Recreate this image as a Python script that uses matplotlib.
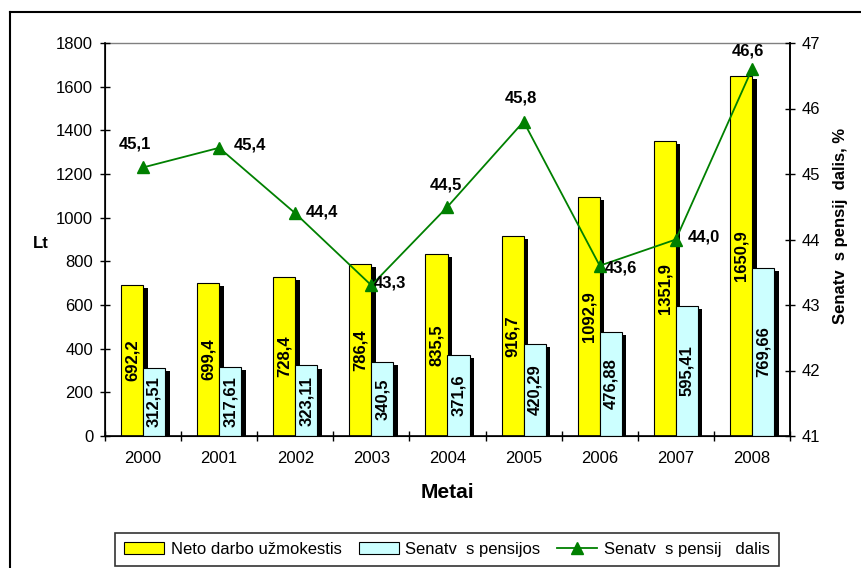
import matplotlib
matplotlib.use("Agg")
import matplotlib.pyplot as plt
import matplotlib.patheffects as pe
from matplotlib.lines import Line2D
from matplotlib.patches import Patch
import numpy as np

plt.rcParams['font.family'] = ['Liberation Sans', 'DejaVu Sans']

years = ['2000', '2001', '2002', '2003', '2004', '2005', '2006', '2007', '2008']
neto = [692.2, 699.4, 728.4, 786.4, 835.5, 916.7, 1092.9, 1351.9, 1650.9]
pensijos = [312.51, 317.61, 323.11, 340.5, 371.6, 420.29, 476.88, 595.41, 769.66]
dalis = [45.1, 45.4, 44.4, 43.3, 44.5, 45.8, 43.6, 44.0, 46.6]

label_neto = 'Neto darbo užmokestis'
label_pens = 'Senatv  s pensijos'
label_dalis = 'Senatv  s pensij   dalis'

# label offsets for line value labels (points)
dalis_offsets = [(-6, 17), (22, 2), (19, 1), (13, 2), (-1, 16), (-2, 17), (15, -2), (20, 2), (-3, 13)]

fig = plt.figure(figsize=(8.61, 5.68), dpi=100)
ax = fig.add_axes([105/861, 1-436/568, 685/861, 393/568])

FS = 12
c_neto, c_pens, c_line = '#FFFF00', '#CCFFFF', '#008000'
x = np.arange(len(years))
w = 0.29
shadow = [pe.SimplePatchShadow(offset=(3.3, -2.2), shadow_rgbFace='black', alpha=1.0), pe.Normal()]
b1 = ax.bar(x - w/2, neto, w, color=c_neto, edgecolor='black', linewidth=0.8, zorder=2)
b2 = ax.bar(x + w/2, pensijos, w, color=c_pens, edgecolor='black', linewidth=0.8, zorder=3)
for p in b1.patches + b2.patches:
    p.set_path_effects(shadow)

for xi, v in zip(x, neto):
    ax.text(xi - w/2, v/2, f"{v:.1f}".replace('.', ','), rotation=90, ha='center', va='center',
            fontsize=FS, fontweight='bold', zorder=6)
for xi, v in zip(x, pensijos):
    ax.text(xi + w/2, v/2, f"{v:g}".replace('.', ','), rotation=90, ha='center', va='center',
            fontsize=FS, fontweight='bold', zorder=6)

ax.set_xlim(-0.5, len(years) - 0.5)
ax.set_ylim(0, 1800)
ax.set_yticks(np.arange(0, 1801, 200))
ax.set_xticks(x)
ax.set_xticklabels(years)
ax.set_xticks(np.arange(-0.5, len(years), 1), minor=True)
ax.tick_params(axis='x', which='major', length=0, pad=11, labelsize=FS)
ax.tick_params(axis='x', which='minor', direction='inout', length=7, width=1)
ax.tick_params(axis='y', direction='inout', length=7, width=1, pad=5, labelsize=FS)
ax.axhline(1800, color='#808080', linewidth=1, zorder=1, clip_on=False)
ax.spines['top'].set_visible(False)
for s in ['left', 'bottom', 'right']:
    ax.spines[s].set_linewidth(1.2)

ax.set_xlabel('Metai', fontsize=15, fontweight='bold', labelpad=12)
ax.set_ylabel('Lt', fontsize=FS, fontweight='bold', rotation=0, va='center', ha='center')
ax.yaxis.set_label_coords(-0.093, 0.49)

ax2 = ax.twinx()
ax2.set_ylim(41, 47)
ax2.set_yticks(np.arange(41, 47.1, 1))
ax2.tick_params(axis='y', direction='inout', length=7, width=1, pad=5, labelsize=FS)
ax2.spines['right'].set_linewidth(1.2)
ax2.spines['top'].set_visible(False)
ln, = ax2.plot(x, dalis, color=c_line, linewidth=1.3, marker='^', markersize=8,
               markerfacecolor=c_line, markeredgecolor=c_line, zorder=5, label=label_dalis)
for xi, v, (dx, dy) in zip(x, dalis, dalis_offsets):
    ax2.annotate(f"{v:.1f}".replace('.', ','), (xi, v), xytext=(dx, dy), textcoords='offset points',
                 ha='center', va='center', fontsize=FS, fontweight='bold', zorder=7)
ax2.set_ylabel(label_dalis.replace('   ', '  ') + ', %', fontsize=FS, fontweight='bold',
               rotation=90, va='center', ha='center')
ax2.yaxis.set_label_coords(1.073, 0.534)

handles = [Patch(facecolor=c_neto, edgecolor='black', linewidth=0.8),
           Patch(facecolor=c_pens, edgecolor='black', linewidth=0.8), ln]
leg = fig.legend(handles, [label_neto, label_pens, label_dalis], loc='lower center',
                 bbox_to_anchor=(447/861, 2/568), ncol=3, frameon=True, fancybox=False,
                 edgecolor='black', fontsize=FS, handlelength=2.4, handleheight=0.7,
                 columnspacing=1.0, handletextpad=0.4, borderpad=0.55, borderaxespad=0)
leg.get_frame().set_linewidth(1.2)

# outer chart border
fig.add_artist(Line2D([10/861, 10/861], [-0.1, 1-12/568], color='black', linewidth=1.5,
                      transform=fig.transFigure))
fig.add_artist(Line2D([10/861, 1.1], [1-12/568, 1-12/568], color='black', linewidth=1.5,
                      transform=fig.transFigure))

fig.savefig('out.png', dpi=100)
